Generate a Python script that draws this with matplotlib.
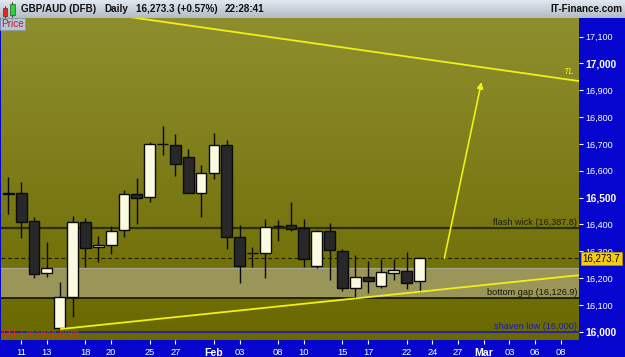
import numpy as np
import matplotlib
matplotlib.use('Agg')
import matplotlib.pyplot as plt
import matplotlib.transforms as mtransforms
from matplotlib.patches import Rectangle
from matplotlib.colors import LinearSegmentedColormap

plt.rcParams['font.family'] = ['Liberation Sans', 'DejaVu Sans']

# daily candles GBP/AUD (DFB), one per trading day (slot 0 = Jan 10)
opens  = [16517, 16516, 16412, 16218, 16013, 16128, 16408, 16315, 16323, 16379, 16513,
          16501, 16700, 16697, 16651, 16516, 16591, 16696, 16352, 16292, 16295, 16395,
          16397, 16387, 16245, 16374, 16302, 16162, 16205, 16170, 16218, 16227, 16188]
highs  = [16576, 16558, 16427, 16334, 16185, 16431, 16424, 16357, 16394, 16528, 16574,
          16706, 16767, 16737, 16681, 16622, 16742, 16715, 16398, 16316, 16421, 16417,
          16485, 16419, 16379, 16404, 16307, 16286, 16264, 16271, 16271, 16296, 16277]
lows   = [16439, 16350, 16199, 16203, 16010, 16056, 16242, 16260, 16289, 16352, 16400,
          16482, 16660, 16582, 16516, 16427, 16569, 16307, 16180, 16242, 16201, 16339,
          16377, 16242, 16236, 16193, 16153, 16121, 16145, 16162, 16193, 16158, 16149]
closes = [16515, 16410, 16214, 16239, 16128, 16408, 16313, 16324, 16374, 16513, 16500,
          16701, 16700, 16624, 16516, 16591, 16697, 16352, 16246, 16292, 16392, 16395,
          16384, 16270, 16374, 16305, 16162, 16205, 16188, 16222, 16230, 16183, 16273.7]

xTickPos = [1, 3, 6, 8, 11, 13, 16, 18, 21, 23, 26, 28, 31, 33, 35, 37, 39, 41, 43]
xTickLabels = ['11', '13', '18', '20', '25', '27', 'Feb', '03', '08', '10',
               '15', '17', '22', '24', '27', 'Mar', '03', '06', '08']
yTicks = [16000, 16100, 16200, 16300, 16400, 16500, 16600, 16700, 16800, 16900, 17000, 17100]

flashWick = 16387.8
bottomGap = 16126.9
gapTop = 16238.6
shavenLow = 16000
lastPrice = 16273.7

# trend lines: two points each (slot, price)
tlUpperX, tlUpperY = [10.2, 44.33], [17168, 16935]
tlLowerX, tlLowerY = [4.1, 44.33], [16010, 16210.3]
arrowFrom = (33.93, 16273.7)
arrowTo = (36.82, 16931)

W, H = 625, 357
blue = '#0606cf'
yellow = '#f0f018'
barH = 18.3

fig = plt.figure(figsize=(W / 100, H / 100), dpi=100, facecolor=blue)

# ---- title bar (pixel coords)
titleAx = fig.add_axes([0, (H - barH) / H, 1, barH / H])
titleAx.set_xlim(0, W)
titleAx.set_ylim(barH, 0)
titleAx.axis('off')
barGrad = np.linspace(0, 1, 50).reshape(-1, 1)
titleAx.imshow(barGrad, extent=[0, W, barH, 0], aspect='auto',
               cmap=LinearSegmentedColormap.from_list('bar', ['#e4eaf0', '#b2bcc6']), zorder=0)
titleAx.vlines([5, 12.2], [6, 1.5], [17.5, 16.5], color='#404040', lw=0.8, zorder=1)
titleAx.add_patch(Rectangle((2.7, 8.3), 4.6, 7.4, facecolor='#e82828', edgecolor='#802020', lw=0.5, zorder=2))
titleAx.add_patch(Rectangle((9.6, 4), 5.2, 11, facecolor='#30d040', edgecolor='#206020', lw=0.5, zorder=2))
titleKw = dict(fontsize=7.1, fontweight='bold', color='#101010', va='center')
titleAx.text(20.7, 9.3, 'GBP/AUD (DFB)', **titleKw)
titleAx.text(104.5, 9.3, 'Daily', **titleKw)
titleAx.text(136, 9.3, '16,273.3 (+0.57%)', **titleKw)
titleAx.text(224.5, 9.3, '22:28:41', **titleKw)
titleAx.text(622, 9.3, 'IT-Finance.com', ha='right', **titleKw)

# ---- main price panel
ax = fig.add_axes([1 / W, 17 / H, 578 / W, (340 - barH) / H])
xMin, xMax = -0.57, 44.41
yMin, yMax = 15969, 17168.5

bgGrad = np.linspace(1, 0, 200).reshape(-1, 1)
ax.imshow(bgGrad, extent=[xMin, xMax, yMin, yMax], aspect='auto', zorder=0,
          cmap=LinearSegmentedColormap.from_list('bg', ['#6a6900', '#8e8e2e']))

ax.axhspan(bottomGap, gapTop, facecolor='#9a9558', edgecolor='none', zorder=1)
ax.axhline(gapTop, color='#a8a890', lw=0.8, zorder=1)
ax.axhline(flashWick, color='#2e2e00', lw=1.6, zorder=2)
ax.axhline(bottomGap, color='#141400', lw=1.2, zorder=2)
ax.axhline(shavenLow, color='#1a1ab0', lw=1.2, zorder=2)
ax.axhline(lastPrice, color='#202000', lw=0.8, ls=(0, (3.5, 2.5)), zorder=2)

# candles
bodyW = 0.84
for i in range(len(opens)):
    o, h, l, c = opens[i], highs[i], lows[i], closes[i]
    ax.vlines(i, l, h, color='#0a0a0a', lw=1.0, zorder=3)
    up = c > o
    ax.add_patch(Rectangle((i - bodyW / 2, min(o, c)), bodyW, abs(c - o),
                           facecolor='#fbfbe2' if up else '#282828',
                           edgecolor='#0a0a0a', lw=1.0, zorder=4))

# trend lines
slopeU = (tlUpperY[1] - tlUpperY[0]) / (tlUpperX[1] - tlUpperX[0])
ax.plot([xMin, xMax], [tlUpperY[0] + slopeU * (xMin - tlUpperX[0]),
                       tlUpperY[0] + slopeU * (xMax - tlUpperX[0])], color=yellow, lw=1.3, zorder=5)
slopeL = (tlLowerY[1] - tlLowerY[0]) / (tlLowerX[1] - tlLowerX[0])
ax.plot([tlLowerX[0], xMax], [tlLowerY[0], tlLowerY[0] + slopeL * (xMax - tlLowerX[0])],
        color=yellow, lw=1.3, zorder=5)
ax.annotate('', xy=arrowTo, xytext=arrowFrom, zorder=5,
            arrowprops=dict(arrowstyle='-|>', color=yellow, lw=1.2, mutation_scale=9,
                            shrinkA=0, shrinkB=0))
ax.text(43.2, 16952, 'TL', color=yellow, fontsize=6.5, style='italic', ha='left', va='bottom', zorder=6)

# level labels
trans = mtransforms.blended_transform_factory(ax.transAxes, ax.transData)
lblKw = dict(xycoords=trans, textcoords='offset points', xytext=(0, 0.5),
             ha='right', va='bottom', fontsize=6.6, zorder=6)
ax.annotate('flash wick (16,387.8)', xy=(0.997, flashWick), color='#1e1e00', **lblKw)
ax.annotate('bottom gap (16,126.9)', xy=(0.997, bottomGap), color='#161608', **lblKw)
ax.annotate('shaven low (16,000)', xy=(0.997, shavenLow), color='#1a1ab4', **lblKw)

ax.text(0.002, 0.002, '\u00a9IT-Finance.com', transform=ax.transAxes, color='#e0301e',
        fontsize=7.4, ha='left', va='bottom', zorder=7)
ax.text(0.0, 0.998, 'Price', transform=ax.transAxes, color='#c01c2c', fontsize=7.2,
        ha='left', va='top', zorder=7,
        bbox=dict(boxstyle='square,pad=0.12', facecolor='#b6c6d4', edgecolor='#8898a8', lw=0.5))

# current price marker on the axis
ax.text(1.006, lastPrice, '16,273.7', transform=trans, fontsize=7, color='black',
        ha='left', va='center', zorder=8, clip_on=False,
        bbox=dict(boxstyle='square,pad=0.15', facecolor='#f6cc10', edgecolor='#b89000', lw=0.6))

ax.set_xlim(xMin, xMax)
ax.set_ylim(yMin, yMax)
for s in ax.spines.values():
    s.set_visible(False)

ax.yaxis.tick_right()
ax.set_yticks(yTicks)
ax.set_yticklabels([f'{v:,}' for v in yTicks])
ax.tick_params(axis='y', colors='white', length=3, width=0.8, pad=1.5, labelsize=6.5)
for v, lbl in zip(yTicks, ax.get_yticklabels()):
    if v % 500 == 0:
        lbl.set_fontweight('bold')
        lbl.set_fontsize(7.4)

ax.set_xticks(xTickPos)
ax.set_xticklabels(xTickLabels)
ax.tick_params(axis='x', colors='white', length=3, width=0.8, pad=2.5, labelsize=6.7)
for lbl in ax.get_xticklabels():
    if lbl.get_text() in ('Feb', 'Mar'):
        lbl.set_fontweight('bold')
        lbl.set_fontsize(7.6)

fig.savefig('out.png', dpi=100, facecolor=blue)
